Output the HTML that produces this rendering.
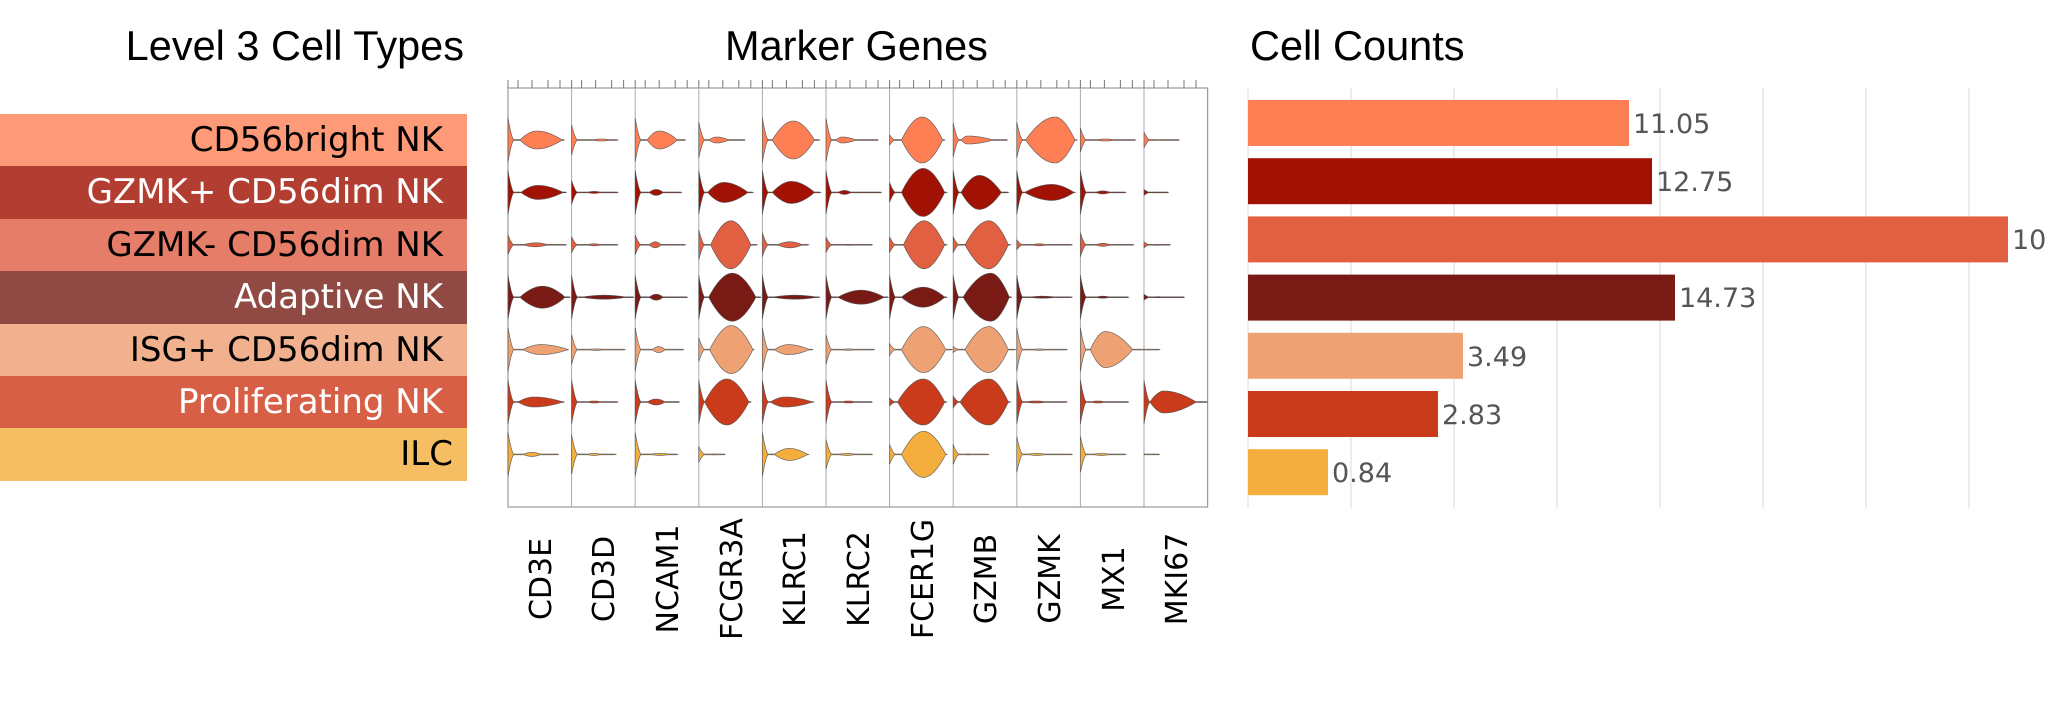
<!DOCTYPE html>
<html><head><meta charset="utf-8"><style>
html,body{margin:0;padding:0;background:#fff;}
body{width:2051px;height:709px;position:relative;overflow:hidden;}
.t{position:absolute;font-family:"Liberation Sans",Arial,sans-serif;font-size:41.5px;color:#000;white-space:nowrap;line-height:1;}
.band{position:absolute;left:0;width:467px;height:52.4px;font-family:"DejaVu Sans",sans-serif;font-size:34px;text-align:right;box-sizing:border-box;padding-right:24px;line-height:52px;white-space:nowrap;}
</style></head><body>
<div class="t" style="right:1587px;top:25px;">Level 3 Cell Types</div>
<div class="t" style="left:725px;top:25px;">Marker Genes</div>
<div class="t" style="left:1250px;top:25px;">Cell Counts</div>

<div class="band" style="top:114px;background:#FE9A78;color:#000">CD56bright NK</div>
<div class="band" style="top:166.4px;background:#B23E32;color:#fff">GZMK+ CD56dim NK</div>
<div class="band" style="top:218.8px;background:#E57D68;color:#000">GZMK- CD56dim NK</div>
<div class="band" style="top:271.2px;background:#904943;color:#fff">Adaptive NK</div>
<div class="band" style="top:323.6px;background:#F1B08E;color:#000">ISG+ CD56dim NK</div>
<div class="band" style="top:376px;background:#D65F45;color:#fff">Proliferating NK</div>
<div class="band" style="top:428.4px;background:#F5BE62;color:#000;padding-right:14px">ILC</div>

<svg id="sv" width="2051" height="709" style="position:absolute;left:0;top:0" xmlns="http://www.w3.org/2000/svg">
<g id="grid"></g>
<g id="bars"></g>
<g id="vio"></g>
<g font-family="DejaVu Sans, sans-serif" font-size="27" fill="#555">
<text x="1633" y="133">11.05</text>
<text x="1656" y="191">12.75</text>
<text x="2012" y="249">10</text>
<text x="1679" y="307">14.73</text>
<text x="1467" y="366">3.49</text>
<text x="1442" y="424">2.83</text>
<text x="1332" y="482">0.84</text>
</g>
<g font-family="DejaVu Sans, sans-serif" font-size="30" fill="#000" text-anchor="middle">
<text transform="translate(551,579) rotate(-90)">CD3E</text>
<text transform="translate(614,579) rotate(-90)">CD3D</text>
<text transform="translate(678,579) rotate(-90)">NCAM1</text>
<text transform="translate(742,579) rotate(-90)">FCGR3A</text>
<text transform="translate(805,579) rotate(-90)">KLRC1</text>
<text transform="translate(869,579) rotate(-90)">KLRC2</text>
<text transform="translate(933,579) rotate(-90)">FCER1G</text>
<text transform="translate(996,579) rotate(-90)">GZMB</text>
<text transform="translate(1060,579) rotate(-90)">GZMK</text>
<text transform="translate(1124,579) rotate(-90)">MX1</text>
<text transform="translate(1187,579) rotate(-90)">MKI67</text>
</g>
</svg>
<script>
(function(){
var NS="http://www.w3.org/2000/svg";
function el(p,tag,a){var e=document.createElementNS(NS,tag);for(var k in a)e.setAttribute(k,a[k]);p.appendChild(e);return e;}
var grid=document.getElementById('grid'),bars=document.getElementById('bars'),vio=document.getElementById('vio');
for(var k=0;k<8;k++){var x=1248+103*k;el(grid,'line',{x1:x,x2:x,y1:88,y2:508,stroke:'#e6e6e6','stroke-width':1.5});}
var cols=['#FF7F55','#A11104','#E06041','#7A1A15','#EEA274','#C93B1A','#F4AE3D'];
var ends=[1629,1652,2008,1675,1463,1438,1328];
for(var i=0;i<7;i++){el(bars,'rect',{x:1248,y:100+58.2*i,width:ends[i]-1248,height:46,fill:cols[i]});}
var L0=508,CW=63.6,T=88,B=507;
el(vio,'rect',{x:L0,y:T,width:CW*11,height:B-T,fill:'none',stroke:'#999','stroke-width':1.2});
var tk=[0,10,24,40,52];
for(var c=0;c<11;c++){var cx=L0+CW*c;
 if(c>0)el(vio,'line',{x1:cx,x2:cx,y1:T,y2:B,stroke:'#aaa','stroke-width':1});
 for(var j=0;j<tk.length;j++){el(vio,'line',{x1:cx+tk[j],x2:cx+tk[j],y1:80,y2:T,stroke:'#777','stroke-width':1});}
}
var D=[
[[22,12,54,9,.4,56],[15,20,40,1,.5,46],[22,12,42,9,.4,50],[18,10,30,3,.4,46],[22,10,52,19,.5,57],[22,10,30,3,.3,52],[5,12,53,23,.5,55],[17,8,40,4,.2,54],[18,9,58,23,.6,60],[12,15,35,1,.5,55],[8,10,20,.5,.5,35]],
[[22,13,55,7,.4,58],[12,15,30,1,.5,46],[22,14,28,3,.5,46],[22,9,49,10,.4,54],[22,10,52,11,.45,58],[22,12,25,2,.5,55],[10,12,55,24,.5,57],[22,8,48,17,.45,55],[22,8,57,8,.55,58],[22,15,30,1.5,.5,45],[3,8,18,.3,.5,24]],
[[10,15,40,2,.5,58],[8,15,30,1,.5,46],[10,14,26,3,.5,50],[15,12,52,24,.5,58],[12,15,40,3,.5,46],[8,15,30,.5,.5,46],[8,14,55,24,.5,57],[8,12,55,24,.55,57],[5,15,30,1,.5,55],[12,15,30,1.5,.5,53],[3,8,18,.5,.5,26]],
[[22,12,57,11,.5,62],[22,10,55,2,.5,62],[22,14,28,3,.5,52],[22,10,57,24,.5,62],[22,10,55,2,.5,57],[22,12,58,7,.5,62],[22,12,55,10,.5,57],[22,10,56,24,.6,58],[22,12,40,1,.5,55],[22,15,30,1,.5,48],[3,8,20,.5,.5,40]],
[[22,15,60,5,.4,60],[15,15,35,.7,.5,53],[22,17,30,3,.5,48],[12,11,54,24,.5,55],[22,12,47,5,.4,50],[15,15,30,.7,.5,48],[6,12,56,23,.5,62],[3,12,55,23,.55,62],[22,15,30,.7,.5,50],[22,10,52,18,.35,79],null],
[[22,10,55,5,.35,56],[22,15,30,1,.5,46],[22,12,30,3,.5,44],[22,6,50,23,.5,52],[22,8,50,5,.35,51],[22,15,30,1,.5,46],[4,8,55,23,.55,57],[6,7,55,23,.6,57],[22,8,30,1,.5,50],[22,10,25,1,.5,48],[22,6,52,11,.3,63]],
[[22,15,33,2,.5,50],[20,15,30,1,.5,44],[22,15,35,1,.5,42],[8,10,20,.5,.5,26],[22,12,45,6,.45,46],[15,12,30,1,.5,46],[10,12,56,23,.5,57],[10,10,20,.5,.5,35],[18,10,30,1,.5,55],[18,12,30,1,.5,45],[0,5,10,0,.5,15]]
];
var RC=[140,192.4,244.8,297.2,349.6,402,454.4];
for(var r=0;r<7;r++){for(var c=0;c<11;c++){var d=D[r][c];if(!d)continue;
 var x0=L0+CW*c,yc=RC[r],s=d[0],a=d[1],b=d[2],h=d[3],p=d[4],Ln=d[5];
 el(vio,'line',{x1:x0,x2:x0+Ln,y1:yc,y2:yc,stroke:'#999','stroke-width':1});
 var top=[],bot=[],N=Math.max(Ln,b)+1;
 for(var x=0;x<=N;x+=0.5){
  var sp=x<6?s*Math.pow(1-x/6,1.6):0;
  var bl=0;if(x>a&&x<b){var t=(x-a)/(b-a);var u=t<p?t/p:(1-t)/(1-p);bl=h*Math.pow(Math.sin(Math.PI/2*u),0.9);}
  var y=Math.max(sp,bl,x<Ln?0.4:0);
  top.push((x0+x).toFixed(1)+','+(yc-y).toFixed(1));bot.unshift((x0+x).toFixed(1)+','+(yc+y).toFixed(1));
 }
 el(vio,'path',{d:'M'+top.join('L')+'L'+bot.join('L')+'Z',fill:cols[r],stroke:'#555','stroke-width':0.6});
}}
})();
</script>
</body></html>
